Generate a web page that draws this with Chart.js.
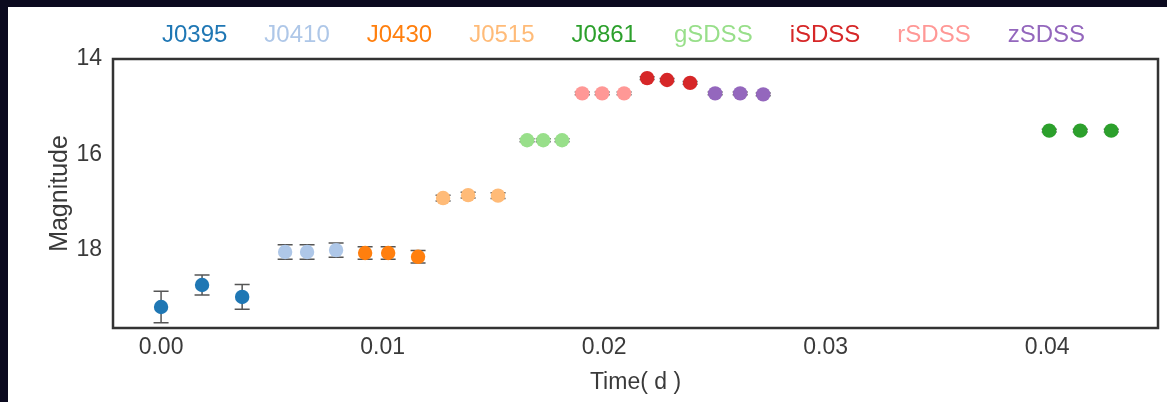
<!DOCTYPE html>
<html>
<head>
<meta charset="utf-8">
<title>Light curve</title>
<script src="https://cdn.jsdelivr.net/npm/chart.js@4.4.0/dist/chart.umd.min.js"></script>
<style>
  html, body { margin: 0; padding: 0; background: #0b0a1f; }
  #frame { position: absolute; left: 8px; top: 7px; width: 1159px; height: 395px; background: #fff; }
  canvas { display: block; }
</style>
</head>
<body>
<div id="frame"><canvas id="lc" width="1159" height="395"></canvas></div>
<script>
// filters, in legend order
const filters = ['J0395', 'J0410', 'J0430', 'J0515', 'J0861', 'gSDSS', 'iSDSS', 'rSDSS', 'zSDSS'];
const colors  = ['#1f77b4', '#aec7e8', '#ff7f0e', '#ffbb78', '#2ca02c', '#98df8a', '#d62728', '#ff9896', '#9467bd'];

// time (d), magnitude and 1-sigma error per filter
const tJ0395 = [0.0000, 0.00185, 0.00366];
const mJ0395 = [19.19, 18.73, 18.98];
const eJ0395 = [0.33, 0.21, 0.26];

const tJ0410 = [0.00560, 0.00659, 0.00790];
const mJ0410 = [18.04, 18.04, 18.00];
const eJ0410 = [0.15, 0.15, 0.15];

const tJ0430 = [0.00921, 0.01025, 0.01160];
const mJ0430 = [18.06, 18.06, 18.14];
const eJ0430 = [0.13, 0.13, 0.13];

const tJ0515 = [0.01273, 0.01386, 0.01521];
const mJ0515 = [16.91, 16.85, 16.86];
const eJ0515 = [0.06, 0.06, 0.06];

const tJ0861 = [0.04009, 0.04149, 0.04289];
const mJ0861 = [15.50, 15.50, 15.50];
const eJ0861 = [0.03, 0.03, 0.03];

const tG = [0.01652, 0.01725, 0.01810];
const mG = [15.70, 15.70, 15.70];
const eG = [0.03, 0.03, 0.03];

const tI = [0.02194, 0.02284, 0.02388];
const mI = [14.40, 14.44, 14.50];
const eI = [0.03, 0.03, 0.03];

const tR = [0.01901, 0.01991, 0.02090];
const mR = [14.72, 14.72, 14.72];
const eR = [0.03, 0.03, 0.03];

const tZ = [0.02501, 0.02614, 0.02718];
const mZ = [14.72, 14.72, 14.74];
const eZ = [0.03, 0.03, 0.03];

const xTicks = [0.00, 0.01, 0.02, 0.03, 0.04];
const yTicks = [14, 16, 18];

const times = [tJ0395, tJ0410, tJ0430, tJ0515, tJ0861, tG, tI, tR, tZ];
const mags  = [mJ0395, mJ0410, mJ0430, mJ0515, mJ0861, mG, mI, mR, mZ];
const errs  = [eJ0395, eJ0410, eJ0430, eJ0515, eJ0861, eG, eI, eR, eZ];

const FONT = "'Liberation Sans', Arial, sans-serif";
const TEXT = '#3a3a3a';

const datasets = filters.map((name, i) => ({
    label: name,
    data: times[i].map((t, j) => ({ x: t, y: mags[i][j], err: errs[i][j] })),
    backgroundColor: colors[i],
    borderWidth: 0,
    pointRadius: 7.2,
    pointHoverRadius: 7.2
}));

// vertical error bars with caps, drawn under the markers
const errorBars = {
    id: 'errorBars',
    beforeDatasetsDraw(chart) {
        const { ctx, scales: { x, y } } = chart;
        ctx.save();
        ctx.strokeStyle = '#555';
        ctx.lineWidth = 1.5;
        chart.data.datasets.forEach(ds => {
            ds.data.forEach(p => {
                const px = x.getPixelForValue(p.x);
                const y1 = y.getPixelForValue(p.y - p.err);
                const y2 = y.getPixelForValue(p.y + p.err);
                ctx.beginPath();
                ctx.moveTo(px, y1); ctx.lineTo(px, y2);
                ctx.moveTo(px - 7.5, y1); ctx.lineTo(px + 7.5, y1);
                ctx.moveTo(px - 7.5, y2); ctx.lineTo(px + 7.5, y2);
                ctx.stroke();
            });
        });
        ctx.restore();
    }
};

// box round the plot area
const frameBox = {
    id: 'frameBox',
    afterDraw(chart) {
        const { ctx, chartArea: a } = chart;
        ctx.save();
        ctx.strokeStyle = '#333';
        ctx.lineWidth = 2.5;
        ctx.strokeRect(a.left, a.top, a.right - a.left, a.bottom - a.top);
        ctx.restore();
    }
};

// legend as coloured names only, in one row above the plot
const textLegend = {
    id: 'textLegend',
    afterDraw(chart) {
        const { ctx, chartArea: a } = chart;
        const gap = 37;
        ctx.save();
        ctx.font = '24px ' + FONT;
        ctx.textBaseline = 'middle';
        ctx.textAlign = 'left';
        const widths = chart.data.datasets.map(ds => ctx.measureText(ds.label).width);
        const total = widths.reduce((s, w) => s + w, 0) + gap * (widths.length - 1);
        let xPos = (a.left + a.right) / 2 - 12 - total / 2;
        chart.data.datasets.forEach((ds, i) => {
            ctx.fillStyle = ds.backgroundColor;
            ctx.fillText(ds.label, xPos, a.top - 24);
            xPos += widths[i] + gap;
        });
        ctx.restore();
    }
};

new Chart(document.getElementById('lc'), {
    type: 'scatter',
    data: { datasets },
    options: {
        responsive: false,
        animation: false,
        layout: { padding: { top: 52, right: 9, left: 0, bottom: 0 } },
        plugins: {
            legend: { display: false },
            tooltip: { enabled: false }
        },
        scales: {
            x: {
                type: 'linear',
                min: -0.00217,
                max: 0.0450,
                grid: { display: false, drawTicks: false },
                border: { display: false },
                afterBuildTicks: s => { s.ticks = xTicks.map(v => ({ value: v })); },
                afterFit: s => { s.height = 74; },
                ticks: {
                    padding: 6,
                    color: TEXT,
                    font: { family: FONT, size: 23 },
                    callback: v => v.toFixed(2)
                },
                title: {
                    display: true,
                    text: 'Time( d )',
                    color: TEXT,
                    font: { family: FONT, size: 23 },
                    padding: { top: 0, bottom: 6 }
                }
            },
            y: {
                reverse: true,
                min: 14,
                max: 19.63,
                grid: { display: false, drawTicks: false },
                border: { display: false },
                afterBuildTicks: s => { s.ticks = yTicks.map(v => ({ value: v })); },
                afterFit: s => { s.width = 105; },
                ticks: {
                    padding: 11,
                    color: TEXT,
                    font: { family: FONT, size: 23 }
                },
                title: {
                    display: true,
                    text: 'Magnitude',
                    color: TEXT,
                    font: { family: FONT, size: 25 },
                    padding: { top: 37, bottom: 0 }
                }
            }
        }
    },
    plugins: [errorBars, frameBox, textLegend]
});
</script>
</body>
</html>
